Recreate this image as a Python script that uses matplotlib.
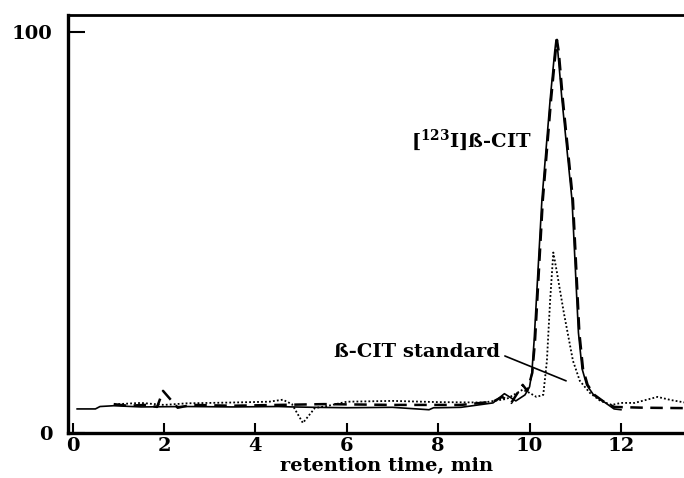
import numpy as np
import matplotlib
matplotlib.use("Agg")
import matplotlib.pyplot as plt

plt.rcParams["font.family"] = "DejaVu Serif"
plt.rcParams["font.weight"] = "bold"
plt.rcParams["mathtext.fontset"] = "dejavuserif"
plt.rcParams["mathtext.default"] = "bf"

# radioactivity trace (solid)
radio_t = [0.1, 0.5, 0.6, 0.9, 1.5, 2.5, 3.5, 4.5, 4.8, 5.3, 6.0, 7.0, 7.8, 7.9, 8.0,
           8.5, 9.2, 9.45, 9.7, 9.9, 10.0, 10.05, 10.1, 10.27, 10.45, 10.55, 10.58,
           10.62, 10.71, 10.93, 11.07, 11.15, 11.25, 11.4, 11.6, 11.85, 12.0]
radio_y = [6.0, 6.0, 6.6, 6.8, 6.5, 6.6, 6.5, 6.6, 6.5, 6.4, 6.3, 6.4, 5.8, 6.3, 6.3,
           6.4, 7.5, 9.8, 8.0, 9.5, 11.5, 15, 23, 58, 83, 95, 98, 95, 83, 58, 25, 16,
           12, 9.5, 8, 6.0, 5.8]

# second detector trace (dashed)
det_t = [0.9, 1.2, 1.6, 1.85, 1.98, 2.3, 2.6, 3.5, 4.5, 5.5, 7.0, 8.5, 9.2, 9.4, 9.6,
         9.85, 9.95, 10.06, 10.12, 10.29, 10.47, 10.57, 10.6, 10.64, 10.73, 10.95,
         11.09, 11.17, 11.27, 11.42, 11.6, 11.85, 12.5, 13.4]
det_y = [7.2, 6.8, 7.0, 6.5, 10.5, 6.3, 7.0, 6.8, 7.0, 7.2, 7.0, 7.0, 7.8, 9.0, 7.5,
         12, 10.5, 15, 23, 58, 83, 95, 98, 95, 83, 58, 25, 16, 12, 9.5, 8, 6.5, 6.3,
         6.2]

# reference standard trace (dotted)
std_t = [1.0, 1.5, 2.0, 2.5, 3.5, 4.3, 4.6, 4.8, 5.04, 5.3, 5.6, 6.0, 7.0, 8.0, 9.0,
         9.5, 9.85, 10.0, 10.15, 10.3, 10.38, 10.45, 10.52, 10.6, 10.75, 10.95, 11.1,
         11.32, 11.55, 11.8, 12.0, 12.3, 12.8, 13.1, 13.4]
std_y = [7.2, 7.5, 7.0, 7.4, 7.6, 7.8, 8.3, 7.2, 2.5, 6.2, 6.8, 7.8, 8.0, 7.7, 7.6,
         8.5, 10.8, 10.0, 9.0, 9.5, 18, 33, 45, 40, 30, 18, 13, 10, 8.0, 7.0, 7.5, 7.5,
         9.0, 8.2, 7.6]

fig = plt.figure(figsize=(6.84, 4.78), dpi=100)
ax = fig.add_axes([68 / 684, 1 - 433 / 478, 616 / 684, 418 / 478])

ax.plot(radio_t, radio_y, color="black", lw=1.2, ls="-")
ax.plot(det_t, det_y, color="black", lw=1.8, ls=(0, (5, 3)))
ax.plot(std_t, std_y, color="black", lw=1.3, ls=(0, (1, 1.2)))

ax.set_xlim(-0.1, 13.38)
ax.set_ylim(0, 104.2)
ax.set_xticks([0, 2, 4, 6, 8, 10, 12])
ax.set_yticks([0, 100])

ax.spines["right"].set_visible(False)
for s in ["left", "bottom"]:
    ax.spines[s].set_linewidth(2.4)
ax.spines["top"].set_linewidth(2.0)

ax.tick_params(axis="x", direction="in", length=7, width=1.5, pad=3, labelsize=14)
ax.tick_params(axis="y", direction="in", length=12, width=1.5, pad=11, labelsize=14)
ax.tick_params(top=False, right=False)

ax.text(10.05, 73, r"[$^{123}$I]ß-CIT", fontsize=14, ha="right", va="center")
ax.text(9.35, 20.2, "ß-CIT standard", fontsize=14, ha="right", va="center")
# pointer from the label to the standard peak
ax.annotate("", xy=(10.80, 13.0), xytext=(9.46, 19.2),
            arrowprops=dict(arrowstyle="-", color="black", lw=1.2,
                            shrinkA=0, shrinkB=0))

fig.text(387 / 684, 1 - 471 / 478, "retention time, min", fontsize=14,
         ha="center", va="baseline")

fig.savefig("out.png", dpi=100)
